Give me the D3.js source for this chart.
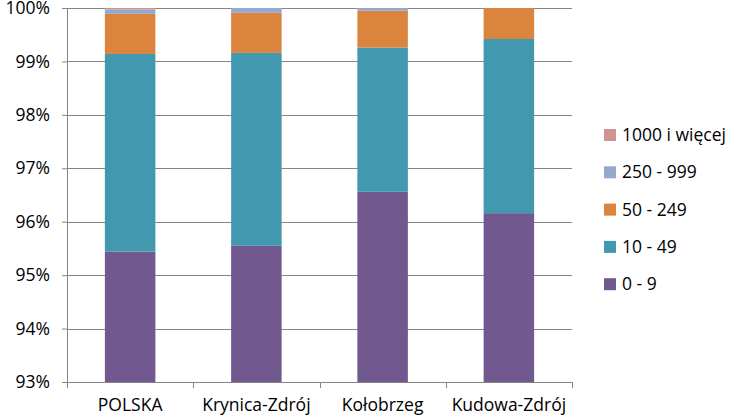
<!DOCTYPE html>
<html>
<head>
<meta charset="utf-8">
<script src="https://cdn.jsdelivr.net/npm/d3@7"></script>
<style>
  body { margin: 0; background: #fff; }
  text { font-family: "Open Sans", "Liberation Sans", sans-serif; fill: #000; }
</style>
</head>
<body>
<div id="chart"></div>
<script>
// cities / regions
var categories = ["POLSKA", "Krynica-Zdrój", "Kołobrzeg", "Kudowa-Zdrój"];
// size classes, bottom to top
var seriesNames = ["0 - 9", "10 - 49", "50 - 249", "250 - 999", "1000 i więcej"];
var colors = ["#71588f", "#4198af", "#db843d", "#93a9cf", "#d19392"];
// share of firms (%) per class
var s0_9 = [95.44, 95.55, 96.56, 96.16];
var s10_49 = [3.70, 3.61, 2.70, 3.26];
var s50_249 = [0.75, 0.75, 0.69, 0.58];
var s250_999 = [0.08, 0.09, 0.05, 0.00];
var s1000 = [0.03, 0.00, 0.00, 0.00];
var yTicks = [93, 94, 95, 96, 97, 98, 99, 100];

var seriesValues = [s0_9, s10_49, s50_249, s250_999, s1000];
var rows = categories.map(function (c, i) {
    var r = { cat: c };
    seriesNames.forEach(function (s, j) { r[s] = seriesValues[j][i]; });
    return r;
});

var W = 732, H = 419;
var margin = { top: 8, left: 67, right: 160, bottom: 37 };
var plotW = 572 - margin.left, plotH = 382 - margin.top;
var fs = "17.5px";

var svg = d3.select("#chart").append("svg")
    .attr("width", W).attr("height", H);

var g = svg.append("g")
    .attr("transform", "translate(" + margin.left + "," + margin.top + ")");

var x = d3.scaleBand().domain(categories).range([0, plotW]).paddingInner(0.6).paddingOuter(0.3);
var y = d3.scaleLinear().domain([93, 100]).range([plotH, 0]);

// gridlines
g.selectAll(".grid").data(yTicks).enter().append("line")
    .attr("x1", 0).attr("x2", plotW)
    .attr("y1", function (d) { return Math.round(y(d)) + 0.5; })
    .attr("y2", function (d) { return Math.round(y(d)) + 0.5; })
    .attr("stroke", "#868686");

g.append("clipPath").attr("id", "clip")
    .append("rect").attr("width", plotW).attr("height", plotH + 0.5);

var stack = d3.stack().keys(seriesNames)(rows);

g.append("g").attr("clip-path", "url(#clip)")
    .selectAll("g").data(stack).enter().append("g")
    .attr("fill", function (d, i) { return colors[i]; })
    .selectAll("rect").data(function (d) { return d; }).enter().append("rect")
    .attr("x", function (d) { return x(d.data.cat); })
    .attr("width", x.bandwidth())
    .attr("y", function (d) { return y(Math.min(d[1], 100)); })
    .attr("height", function (d) { return Math.max(0, y(d[0]) - y(Math.min(d[1], 100))); });

// y axis
var yAxis = g.append("g")
    .call(d3.axisLeft(y).tickValues(yTicks).tickSize(5).tickPadding(12)
        .tickFormat(function (d) { return d + "%"; }));
yAxis.selectAll("path, line").attr("stroke", "#868686");
yAxis.selectAll("text").style("font-size", fs).attr("fill", "#000");

// x axis with ticks at band boundaries
var xAxisG = g.append("g").attr("transform", "translate(0," + plotH + ")");
xAxisG.append("line").attr("x1", 0).attr("x2", plotW).attr("y1", 0.5).attr("y2", 0.5)
    .attr("stroke", "#868686");
d3.range(categories.length + 1).forEach(function (i) {
    var px = Math.round(i * plotW / categories.length) + 0.5;
    xAxisG.append("line").attr("x1", px).attr("x2", px).attr("y1", 0).attr("y2", 6)
        .attr("stroke", "#868686");
});
xAxisG.selectAll(".lab").data(categories).enter().append("text")
    .attr("x", function (d) { return x(d) + x.bandwidth() / 2; })
    .attr("y", 29)
    .attr("text-anchor", "middle")
    .style("font-size", fs)
    .text(function (d) { return d; });

// legend, top entry first
var legend = svg.append("g").attr("transform", "translate(604,129)");
var legendOrder = seriesNames.slice().reverse();
var lg = legend.selectAll("g").data(legendOrder).enter().append("g")
    .attr("transform", function (d, i) { return "translate(0," + (i * 37.3) + ")"; });
lg.append("rect").attr("width", 12).attr("height", 12)
    .attr("fill", function (d) { return colors[seriesNames.indexOf(d)]; });
lg.append("text").attr("x", 18).attr("y", 12)
    .style("font-size", fs)
    .text(function (d) { return d; });
</script>
</body>
</html>
